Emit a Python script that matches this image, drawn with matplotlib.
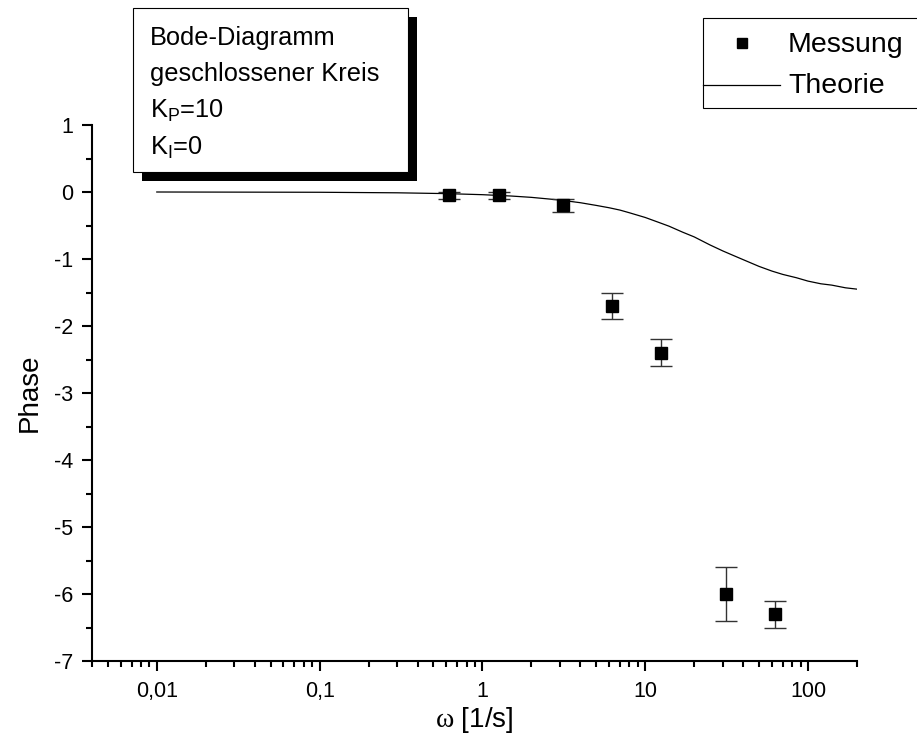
import matplotlib
matplotlib.use("Agg")
import matplotlib.pyplot as plt
from matplotlib.patches import Rectangle
from matplotlib.lines import Line2D
from matplotlib.ticker import FixedLocator, FixedFormatter, LogLocator, MultipleLocator, NullFormatter

plt.rcParams["font.family"] = ["Liberation Sans", "DejaVu Sans"]
plt.rcParams["mathtext.fontset"] = "custom"
plt.rcParams["mathtext.rm"] = "Liberation Sans"
plt.rcParams["mathtext.sf"] = "Liberation Serif"
plt.rcParams["axes.unicode_minus"] = False

# Measured phase of the closed loop
omega_meas = [0.628, 1.257, 3.14, 6.28, 12.57, 31.4, 62.8]
phase_meas = [-0.05, -0.05, -0.2, -1.7, -2.4, -6.0, -6.3]
phase_err = [0.05, 0.05, 0.1, 0.2, 0.2, 0.4, 0.2]

# Theoretical phase curve (tabulated)
omega_theory = [0.01, 0.1, 0.3, 0.6, 1, 1.5, 2, 3, 4, 5, 6, 7, 8, 10, 12, 14,
                17, 20, 25, 30, 35, 40, 50, 60, 70, 85, 100, 120, 140, 170, 200]
phase_theory = [0.0, -0.004, -0.012, -0.024, -0.04, -0.06, -0.08, -0.12, -0.16,
                -0.20, -0.235, -0.27, -0.31, -0.38, -0.45, -0.51, -0.60, -0.67,
                -0.79, -0.88, -0.95, -1.01, -1.11, -1.18, -1.23, -1.28, -1.33,
                -1.37, -1.39, -1.43, -1.45]

x_major = [0.01, 0.1, 1, 10, 100]
x_major_labels = ["0,01", "0,1", "1", "10", "100"]
y_major = [-7, -6, -5, -4, -3, -2, -1, 0, 1]

info_lines = ["Bode-Diagramm", "geschlossener Kreis",
              r"K$_\mathregular{P}$=10", r"K$_\mathregular{I}$=0"]
legend_labels = ["Messung", "Theorie"]

W, H = 917, 742
fig = plt.figure(figsize=(W / 100, H / 100), dpi=100)
ax = fig.add_axes([92 / W, 1 - 661 / H, (857 - 92) / W, (661 - 125) / H])

ax.plot(omega_theory, phase_theory, color="black", lw=0.9)
ax.errorbar(omega_meas, phase_meas, yerr=phase_err, fmt="s", color="black",
            ms=8.6, ecolor="#333333", elinewidth=1.0, capsize=8, capthick=1.0)

ax.set_xscale("log")
ax.set_xlim(0.004, 200)
ax.set_ylim(-7, 1)

ax.xaxis.set_major_locator(FixedLocator(x_major))
ax.xaxis.set_major_formatter(FixedFormatter(x_major_labels))
ax.xaxis.set_minor_locator(LogLocator(base=10, subs=range(2, 10), numticks=20))
ax.xaxis.set_minor_formatter(NullFormatter())
ax.yaxis.set_major_locator(FixedLocator(y_major))
ax.yaxis.set_minor_locator(MultipleLocator(0.5))

for s in ["top", "right"]:
    ax.spines[s].set_visible(False)
for s in ["left", "bottom"]:
    ax.spines[s].set_linewidth(1.5)

ax.tick_params(which="major", direction="out", length=7.5, width=1.5,
               labelsize=15.5, pad=6)
ax.tick_params(which="minor", direction="out", length=4.3, width=1.5)
ax.tick_params(axis="x", which="major", pad=7)

ax.set_xlabel(r"$\mathsf{ω}$ [1/s]", fontsize=20, labelpad=2)
ax.set_ylabel("Phase", fontsize=20, labelpad=8)

# Annotation box with drop shadow
def px_rect(x0, y0, x1, y1, **kw):
    return Rectangle((x0 / W, 1 - y1 / H), (x1 - x0) / W, (y1 - y0) / H,
                     transform=fig.transFigure, **kw)

fig.add_artist(px_rect(142, 17, 417, 181, facecolor="black", edgecolor="none"))
fig.add_artist(px_rect(133, 8, 408, 172, facecolor="white", edgecolor="black", lw=0.8))
for i, line in enumerate(info_lines):
    fig.text(150 / W, 1 - (38 + 36.5 * i) / H, line, fontsize=18.3,
             va="center", ha="left")

# Legend panel
fig.add_artist(px_rect(703, 18, 930, 108, facecolor="white", edgecolor="black", lw=0.8))
fig.add_artist(Line2D([742 / W], [1 - 43 / H], marker="s", ms=7.5, color="black",
                      transform=fig.transFigure))
fig.add_artist(Line2D([703 / W, 780 / W], [1 - 85 / H, 1 - 85 / H], color="black",
                      lw=0.9, transform=fig.transFigure))
fig.text(788 / W, 1 - 45 / H, legend_labels[0], fontsize=20.5, va="center", ha="left")
fig.text(788 / W, 1 - 86 / H, legend_labels[1], fontsize=20.5, va="center", ha="left")

fig.savefig("out.png", dpi=100, facecolor="white")
